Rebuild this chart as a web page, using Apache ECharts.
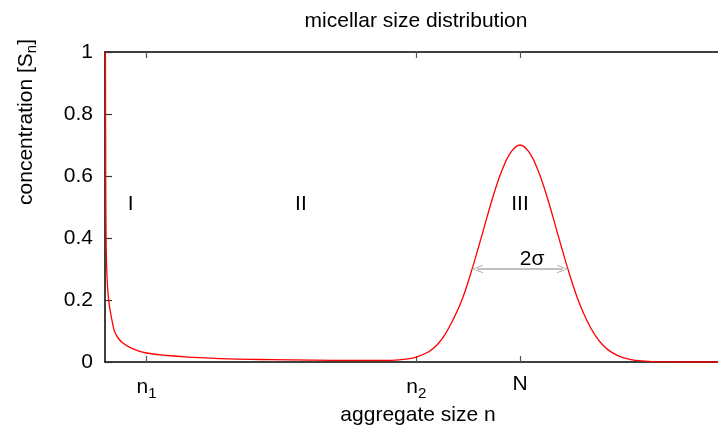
<!DOCTYPE html>
<html>
<head>
<meta charset="utf-8">
<script src="https://cdn.jsdelivr.net/npm/echarts@6/dist/echarts.min.js"></script>
<style>html,body{margin:0;padding:0;background:#fff}#c{width:718px;height:439px}</style>
</head>
<body>
<div id="c"></div>
<script>
// ---- data ----
const curveX = [0.1, 0.15, 0.2, 0.3, 0.5, 0.8, 1.2, 1.9, 2.4, 3.3, 4.3, 6, 8, 10, 15, 20, 30, 40, 50, 60, 65, 70, 73, 75, 78, 80, 82, 84, 86, 88, 90, 92, 94, 96, 98, 100, 102, 104, 106, 108, 110, 112, 114, 116, 118, 120, 122, 125, 128, 132, 140, 150];
const curveY = [1.0, 0.75, 0.52, 0.36, 0.27, 0.21, 0.17, 0.12, 0.095, 0.075, 0.061, 0.047, 0.036, 0.029, 0.021, 0.016, 0.010, 0.0075, 0.006, 0.005, 0.005, 0.006, 0.01, 0.016, 0.033, 0.055, 0.09, 0.14, 0.2, 0.28, 0.37, 0.465, 0.555, 0.63, 0.68, 0.7, 0.68, 0.63, 0.555, 0.465, 0.37, 0.28, 0.2, 0.137, 0.088, 0.054, 0.032, 0.013, 0.005, 0.001, 0, 0];
const tickValues = [10, 75, 100];
const tickBase = ['n', 'n', 'N'];
const tickSub = ['1', '2', ''];
const regionNames = ['I', 'II', 'III', '2σ'];
const regionX = [6.2, 47.2, 100, 102.9];
const regionY = [0.51, 0.51, 0.51, 0.332];
const arrowX = [89.7, 110.3];   // arrow symbol centres (tips sit ~1.4 units further out)
const arrowY = 0.3;
const titleText = 'micellar size distribution';
const xName = 'aggregate size n';

const FONT = 'Liberation Sans, Arial, Helvetica, sans-serif';
const FS = 21;
const chart = echarts.init(document.getElementById('c'), null, {renderer: 'canvas'});

const tickLabelMap = {};
tickValues.forEach((v, i) => {
  tickLabelMap[v] = tickSub[i] ? '{b|' + tickBase[i] + '}{s|' + tickSub[i] + '}' : '{b|' + tickBase[i] + '}';
});

const xAxisBase = {
  type: 'value', min: 0, max: 150,
  splitLine: {show: false},
  axisLine: {show: true, onZero: false, lineStyle: {color: '#000', width: 1.5}},
  axisTick: {show: true, inside: true, length: 6, customValues: tickValues, lineStyle: {color: '#555', width: 1.2}}
};

chart.setOption({
  animation: false,
  backgroundColor: '#fff',
  title: {
    text: titleText, left: 411, top: 6, textAlign: 'center',
    textStyle: {fontFamily: FONT, fontSize: FS, fontWeight: 'normal', color: '#000'}
  },
  grid: {left: 105, top: 52, right: -9.5, bottom: 77, outerBoundsMode: 'none', containLabel: false},
  xAxis: [
    Object.assign({}, xAxisBase, {
      position: 'bottom',
      axisLabel: {
        show: true, customValues: tickValues, margin: 12,
        formatter: v => tickLabelMap[v] || '',
        rich: {
          b: {fontFamily: FONT, fontSize: FS, color: '#000'},
          s: {fontFamily: FONT, fontSize: 15, color: '#000', padding: [12, 0, 0, 0]}
        }
      }
    }),
    Object.assign({}, xAxisBase, {position: 'top', axisLabel: {show: false}})
  ],
  yAxis: {
    type: 'value', min: 0, max: 1, interval: 0.2,
    splitLine: {show: false},
    axisLine: {show: true, lineStyle: {color: '#000', width: 1.5}},
    axisTick: {show: true, inside: true, length: 7, lineStyle: {color: '#333', width: 1.2}},
    axisLabel: {
      margin: 12, fontFamily: FONT, fontSize: FS, color: '#000',
      formatter: v => String(Math.round(v * 10) / 10)
    }
  },
  series: [
    {
      type: 'line', xAxisIndex: 0, yAxisIndex: 0,
      data: curveX.map((x, i) => [x, curveY[i]]),
      showSymbol: false, symbol: 'none',
      smooth: 0.4,
      lineStyle: {color: '#ff0000', width: 1.3},
      clip: true, z: 3,
      markLine: {
        silent: true,
        symbol: ['path://M5,0 L10,10 L9,10.6 L5,1.8 L1,10.6 L0,10 Z', 'path://M5,0 L10,10 L9,10.6 L5,1.8 L1,10.6 L0,10 Z'],
        symbolSize: [8, 12],
        label: {show: false},
        lineStyle: {color: '#aaaaaa', width: 1.6, type: 'solid'},
        data: [[{coord: [arrowX[0], arrowY]}, {coord: [arrowX[1], arrowY]}]]
      }
    },
    {
      type: 'scatter', symbolSize: 0, silent: true,
      itemStyle: {opacity: 1},
      data: regionNames.map((n, i) => ({name: n, value: [regionX[i], regionY[i]]})),
      label: {show: true, position: 'inside', formatter: '{b}', fontFamily: FONT, fontSize: FS, color: '#000', opacity: 1},
      z: 4
    }
  ],
  graphic: [
    {
      type: 'text', x: 26, y: 122, rotation: Math.PI / 2,
      style: {
        text: '{a|concentration [S}{s|n}{a|]}',
        rich: {
          a: {fontFamily: FONT, fontSize: FS, fill: '#000'},
          s: {fontFamily: FONT, fontSize: 15, fill: '#000', padding: [12, 0, 0, 0]}
        },
        align: 'center', verticalAlign: 'middle'
      }
    },
    {
      type: 'text', x: 418, y: 415,
      style: {text: xName, fontFamily: FONT, fontSize: FS, fill: '#000', align: 'center', verticalAlign: 'middle'}
    }
  ]
});
</script>
</body>
</html>
